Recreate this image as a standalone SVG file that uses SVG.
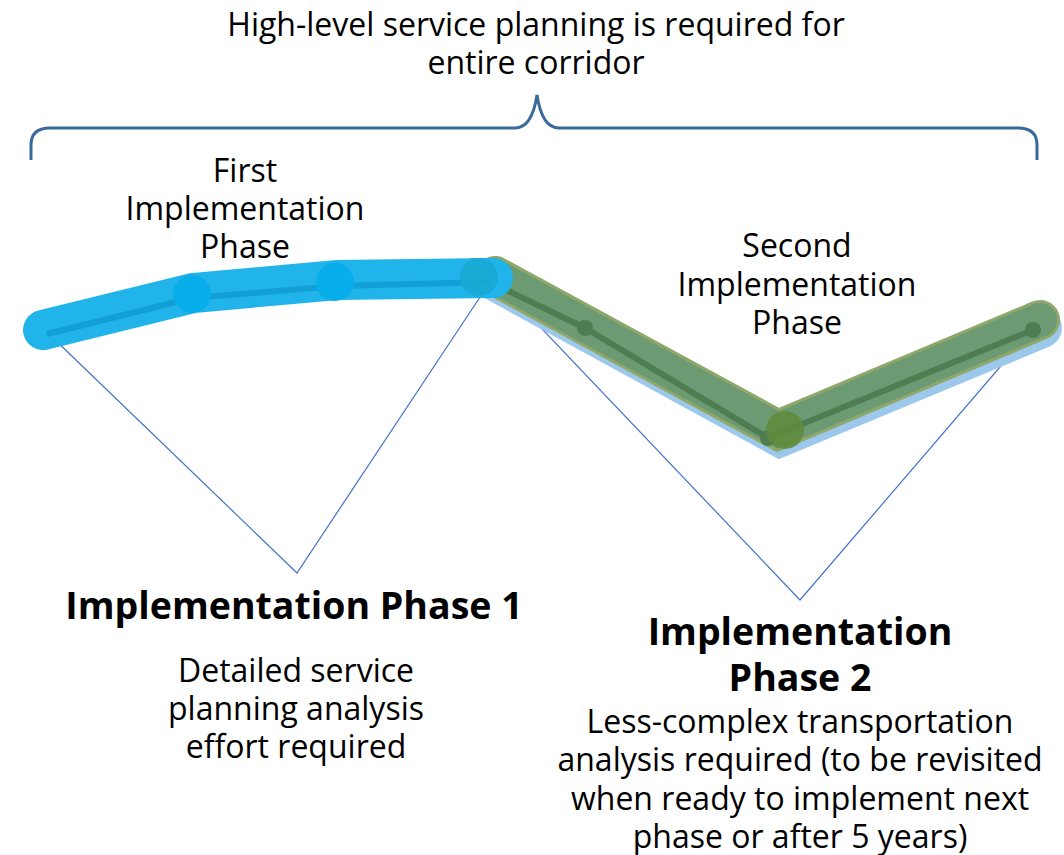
<svg xmlns="http://www.w3.org/2000/svg" width="1064" height="855" viewBox="0 0 1064 855">
<style>
text{font-family:"Open Sans","Noto Sans","Liberation Sans",sans-serif;fill:#000;text-anchor:middle}
.t{font-size:32px}
.b{font-size:37.5px;font-weight:bold}
.call{fill:none;stroke:#4472c4;stroke-width:1.2}
</style>
<rect width="1064" height="855" fill="#fff"/>
<g id="brace">
<path d="M31,160 L31,145 Q31,128 50,128 L515,128 Q532,128 537,95 Q542,128 559,128 L1018,128 Q1037,128 1037,145 L1037,160" fill="none" stroke="#3a6a9c" stroke-width="3"/>
</g>
<g id="title">
<text class="t" x="536" y="36">High-level service planning is required for</text>
<text class="t" x="536" y="74">entire corridor</text>
</g>
<g id="connectors">
<polyline class="call" points="50,335 297,573 490,282"/>
<polyline class="call" points="505,290 800,600 1030,332"/>
</g>
<g id="phase2-line">
<polyline points="495,281 780,437 1042,328" fill="none" stroke="#9cc8ec" stroke-width="40" stroke-linejoin="miter" stroke-linecap="round"/>
<polyline points="495,276 778,430 1040,320" fill="none" stroke="#8fa86a" stroke-width="40" stroke-linejoin="miter" stroke-linecap="round"/>
<polyline points="495,276 778,430 1040,320" fill="none" stroke="#6b9a73" stroke-width="34" stroke-linejoin="miter" stroke-linecap="round"/>
<polyline points="490,282 585,328 768,438 1033,330" fill="none" stroke="#4f7d52" stroke-width="6"/>
<circle cx="585" cy="328" r="8" fill="#4f7d52"/>
<circle cx="768" cy="438" r="8" fill="#4f7d52"/>
<circle cx="1033" cy="330" r="8" fill="#4f7d52"/>
<circle cx="785" cy="430" r="19" fill="#5f8a3a" opacity="0.85"/>
</g>
<g id="phase1-line">
<polyline points="43,330 193,293 337,280 493,278" fill="none" stroke="#20b4ea" stroke-width="40" stroke-linejoin="miter" stroke-linecap="round"/>
<rect x="470" y="258" width="23" height="40" fill="#20b4ea"/>
<polyline points="47,334 192,298 338,286 490,282" fill="none" stroke="#129fd6" stroke-width="6"/>
<circle cx="192" cy="294" r="19" fill="#08aeea"/>
<circle cx="335" cy="282" r="19" fill="#08aeea"/>
<circle cx="479" cy="277" r="19" fill="#1aa9d4" opacity="0.9"/>
</g>
<g id="label-first">
<text class="t" x="245" y="182">First</text>
<text class="t" x="245" y="220">Implementation</text>
<text class="t" x="245" y="258">Phase</text>
</g>
<g id="label-second">
<text class="t" x="797" y="257">Second</text>
<text class="t" x="797" y="296">Implementation</text>
<text class="t" x="797" y="334">Phase</text>
</g>
<g id="phase1-desc">
<text class="b" x="294" y="619">Implementation Phase 1</text>
<text class="t" x="296" y="682">Detailed service</text>
<text class="t" x="296" y="720">planning analysis</text>
<text class="t" x="296" y="758">effort required</text>
</g>
<g id="phase2-desc">
<text class="b" x="800" y="645">Implementation</text>
<text class="b" x="800" y="691">Phase 2</text>
<text class="t" x="800" y="733">Less-complex transportation</text>
<text class="t" x="800" y="771">analysis required (to be revisited</text>
<text class="t" x="800" y="810">when ready to implement next</text>
<text class="t" x="800" y="848">phase or after 5 years)</text>
</g>
</svg>
